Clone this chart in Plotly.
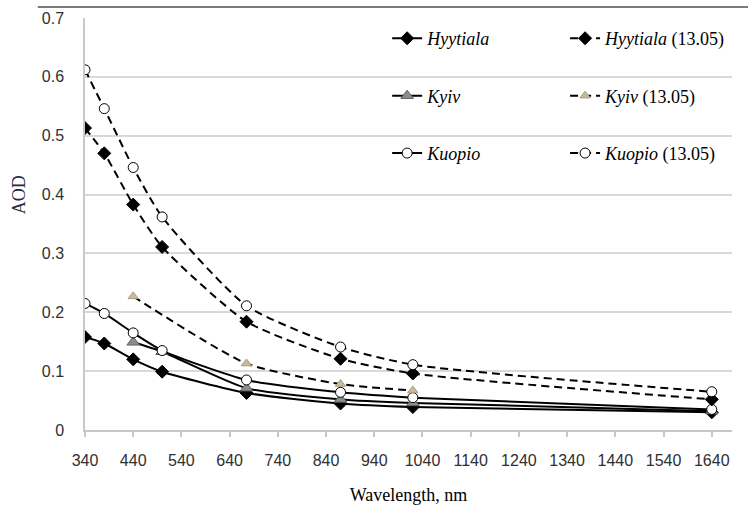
import plotly.graph_objects as go

# ---- data ----
wavelength = [340, 380, 440, 500, 675, 870, 1020, 1640]
hyytiala = [0.158, 0.147, 0.120, 0.099, 0.063, 0.045, 0.039, 0.030]
kuopio = [0.215, 0.198, 0.165, 0.135, 0.085, 0.064, 0.055, 0.035]
hyytiala_1305 = [0.513, 0.470, 0.383, 0.311, 0.184, 0.121, 0.096, 0.052]
kuopio_1305 = [0.612, 0.546, 0.446, 0.362, 0.211, 0.141, 0.111, 0.065]

wavelength_kyiv = [440, 500, 675, 870, 1020, 1640]
kyiv = [0.149, 0.133, 0.071, 0.052, 0.046, 0.032]
wavelength_kyiv_1305 = [440, 675, 870, 1020]
kyiv_1305 = [0.227, 0.113, 0.078, 0.067]

x_ticks = list(range(340, 1641, 100))
y_ticks = [0, 0.1, 0.2, 0.3, 0.4, 0.5, 0.6, 0.7]
y_tick_text = ["0", "0.1", "0.2", "0.3", "0.4", "0.5", "0.6", "0.7"]

fig = go.Figure()

def add(x, y, name, dash, symbol, size, fill, outline, legend, group):
    fig.add_trace(go.Scatter(
        x=x, y=y, name=name, mode="lines+markers",
        line=dict(color="black", width=2, dash=dash, shape="spline", smoothing=0.6),
        marker=dict(symbol=symbol, size=size, color=fill,
                    line=dict(color=outline, width=1)),
        legend=legend, legendgroup=group,
    ))

DASH = "8px,5px"
add(wavelength, hyytiala, "<i>Hyytiala</i>", "solid", "diamond", 10, "black", "black", "legend", "a")
add(wavelength_kyiv, kyiv, "<i>Kyiv</i>", "solid", "triangle-up", 11, "#8c8c8c", "#606060", "legend", "b")
add(wavelength, kuopio, "<i>Kuopio</i>", "solid", "circle", 10, "white", "black", "legend", "c")
add(wavelength, hyytiala_1305, "<i>Hyytiala</i> (13.05)", DASH, "diamond", 10, "black", "black", "legend2", "d")
add(wavelength_kyiv_1305, kyiv_1305, "<i>Kyiv</i> (13.05)", DASH, "triangle-up", 9, "#c8bb9b", "#a89c80", "legend2", "e")
add(wavelength, kuopio_1305, "<i>Kuopio</i> (13.05)", DASH, "circle", 10, "white", "black", "legend2", "f")

legend_font = dict(family="Liberation Serif", size=18, color="black")
common_legend = dict(bgcolor="rgba(0,0,0,0)", font=legend_font, tracegroupgap=31,
                     xanchor="left", yanchor="top", itemwidth=30)

fig.update_layout(
    width=748, height=506,
    margin=dict(l=85, r=16, t=18, b=76, autoexpand=False),
    paper_bgcolor="white", plot_bgcolor="white",
    showlegend=True,
    legend=dict(x=0.467, y=0.995, **common_legend),
    legend2=dict(x=0.742, y=0.995, **common_legend),
    xaxis=dict(
        range=[340, 1682], tickmode="array", tickvals=x_ticks,
        ticktext=[str(v) for v in x_ticks], automargin=False,
        showgrid=False, zeroline=False,
        showline=True, linecolor="#c8c8c8", linewidth=1.5,
        ticks="outside", ticklen=5, tickcolor="#c8c8c8", tickwidth=1.5,
        ticklabelstandoff=10,
        tickfont=dict(family="Liberation Sans", size=16, color="#303030"),
        title=dict(text="Wavelength, nm", standoff=20,
                   font=dict(family="Liberation Serif", size=18, color="black")),
    ),
    yaxis=dict(
        range=[0, 0.7], tickmode="array", tickvals=y_ticks, ticktext=y_tick_text,
        showgrid=True, gridcolor="#d9d9d9", gridwidth=1.5, automargin=False,
        zeroline=False, showline=True, linecolor="#c8c8c8", linewidth=1.5,
        ticks="", ticklabelstandoff=16,
        tickfont=dict(family="Liberation Sans", size=16, color="#303030"),
    ),
    annotations=[dict(text="AOD", xref="paper", yref="paper", x=-0.102, y=0.57,
                      xanchor="center", yanchor="middle",
                      textangle=-90, showarrow=False,
                      font=dict(family="Liberation Serif", size=18, color="#1f2a44"))],
    shapes=[dict(type="line", xref="paper", yref="paper", x0=-0.073, x1=1.03,
                 y0=1.0265, y1=1.0265, layer="above",
                 line=dict(color="#7a7a7a", width=2))],
)

fig.write_html("out.html", config={"displayModeBar": False},
               post_script="document.body.style.margin='0';")
